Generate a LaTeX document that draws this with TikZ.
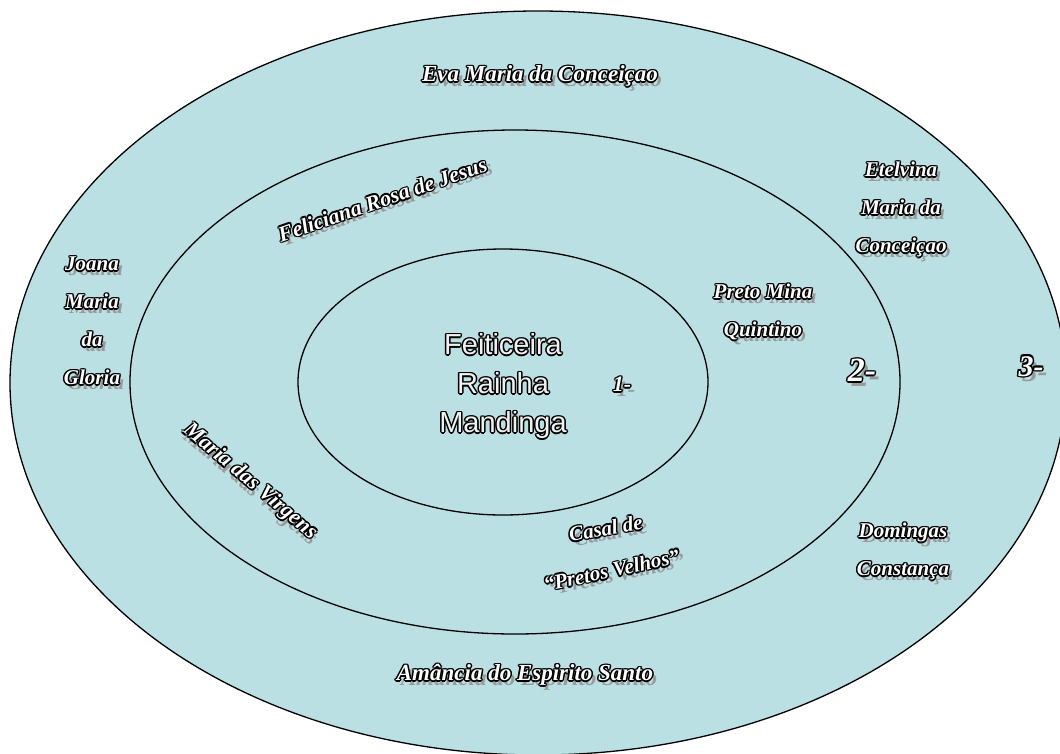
\documentclass[tikz,border=0pt]{standalone}
\usepackage{fontspec}
\setmainfont{Liberation Serif}
\newfontfamily\arialf{Liberation Sans}
\definecolor{fillb}{HTML}{BAE0E4}
\definecolor{shadowc}{HTML}{9A9A9A}
\newcommand\oc[3]{\makebox[0pt][l]{\kern#1\raisebox{#2}{\color{black}#3}}}
\newcommand\ow[2]{%
  \oc{1.5pt}{0pt}{#2}\oc{-1.5pt}{0pt}{#2}\oc{0pt}{1.5pt}{#2}\oc{0pt}{-1.5pt}{#2}%
  \oc{1.06pt}{1.06pt}{#2}\oc{-1.06pt}{1.06pt}{#2}\oc{1.06pt}{-1.06pt}{#2}\oc{-1.06pt}{-1.06pt}{#2}%
  {\color{#1}#2}}
\newcommand\wa[1]{\makebox[0pt][l]{\kern4pt\raisebox{-5pt}{\color{shadowc}#1}}\ow{white}{#1}}
\newcommand\ml[1]{\begin{tabular}{@{}c@{}}#1\end{tabular}}
\begin{document}
\begin{tikzpicture}[x=1pt,y=-1pt,
  ring/.style={draw=black,line width=1.3pt,fill=fillb},
  lab/.style={inner sep=0pt,font=\fontsize{#1}{38}\selectfont\bfseries\itshape},
  central/.style={inner sep=0pt,font=\fontsize{29}{39}\selectfont\arialf}]
\useasboundingbox (0,0) rectangle (1060,753);
\draw[ring] (538,383) ellipse [x radius=528, y radius=372];
\draw[ring] (515,382) ellipse [x radius=385, y radius=252];
\draw[ring] (503,382) ellipse [x radius=205, y radius=133];

\node[central] (center) at (503,386) {\ow{white!88!gray}{\ml{Feiticeira\\Rainha\\Mandinga}}};

\node[lab=23] (eva) at (540,78) {\wa{Eva Maria da Conceiçao}};
\node[lab=22,rotate=19] (feli) at (383,201) {\wa{Feliciana Rosa de Jesus}};
\node[lab=21] (joana) at (92,322) {\wa{\ml{Joana\\Maria\\da\\Gloria}}};
\node[lab=21] (etel) at (901,209) {\wa{\ml{Etelvina\\Maria da\\Conceiçao}}};
\node[lab=21] (preto) at (763,312) {\wa{\ml{Preto Mina\\Quintino}}};
\node[lab=22] (n1) at (622,386) {\wa{1-}};
\node[lab=34] (n2) at (862,372) {\wa{2-}};
\node[lab=30] (n3) at (1031,368) {\wa{3-}};
\node[lab=22,rotate=-40] (mvir) at (249,483) {\wa{Maria das Virgens}};
\node[lab=21,rotate=10] (casal) at (606,530) {\wa{Casal de}};
\node[lab=21,rotate=12] (pvel) at (612,572) {\wa{``Pretos Velhos''}};
\node[lab=21] (doming) at (903,551) {\wa{\ml{Domingas\\Constança}}};
\node[lab=23] (amancia) at (525,677) {\wa{Amância do Espirito Santo}};
\end{tikzpicture}
\end{document}
